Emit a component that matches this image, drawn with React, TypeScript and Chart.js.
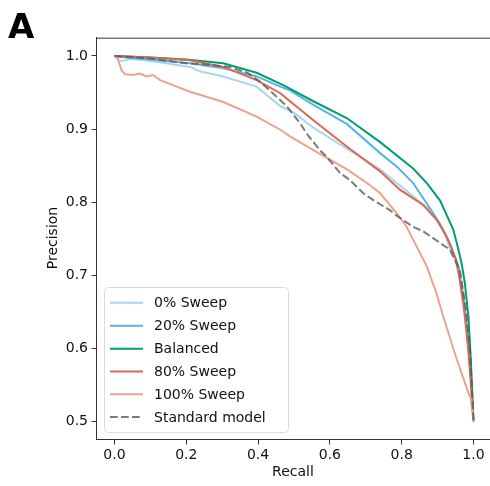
import React, { useEffect, useRef } from "react";
import { Chart, registerables } from "chart.js";

Chart.register(...registerables);

const seriesLabels = ["0% Sweep", "20% Sweep", "Balanced", "80% Sweep", "100% Sweep", "Standard model"];
const seriesColors = ["#a8d6f0", "#56b4e9", "#009e73", "#e0664e", "#e9a48e", "rgba(90,90,90,0.8)"];

const recall0 = [0, 0.01, 0.02, 0.05, 0.117, 0.21, 0.238, 0.303, 0.396, 0.46, 0.5, 0.554, 0.647, 0.74, 0.814, 0.879, 0.916, 0.934, 0.947, 0.958, 0.967, 0.98, 0.99, 1.0];
const prec0 = [1.0, 0.995, 0.993, 0.996, 0.992, 0.985, 0.979, 0.972, 0.958, 0.932, 0.922, 0.902, 0.873, 0.845, 0.815, 0.789, 0.762, 0.737, 0.725, 0.703, 0.671, 0.63, 0.58, 0.5];

const recall20 = [0, 0.05, 0.1, 0.21, 0.303, 0.396, 0.462, 0.489, 0.554, 0.647, 0.74, 0.79, 0.832, 0.87, 0.906, 0.934, 0.958, 0.972, 0.982, 0.99, 1.0];
const prec20 = [1.0, 0.997, 0.995, 0.99, 0.983, 0.972, 0.958, 0.953, 0.933, 0.907, 0.867, 0.847, 0.826, 0.798, 0.771, 0.744, 0.712, 0.671, 0.63, 0.58, 0.5];

const recallBal = [0, 0.1, 0.2, 0.303, 0.396, 0.47, 0.554, 0.647, 0.74, 0.832, 0.87, 0.907, 0.944, 0.958, 0.967, 0.976, 0.986, 0.993, 1.0];
const precBal = [1.0, 0.998, 0.995, 0.99, 0.977, 0.96, 0.938, 0.915, 0.882, 0.846, 0.826, 0.802, 0.762, 0.735, 0.716, 0.689, 0.643, 0.58, 0.5];

const recall80 = [0, 0.1, 0.21, 0.303, 0.396, 0.462, 0.489, 0.554, 0.647, 0.74, 0.795, 0.86, 0.897, 0.925, 0.939, 0.952, 0.962, 0.972, 0.976, 0.985, 0.993, 1.0];
const prec80 = [1.0, 0.998, 0.994, 0.985, 0.967, 0.949, 0.938, 0.912, 0.876, 0.842, 0.817, 0.796, 0.776, 0.753, 0.737, 0.72, 0.694, 0.662, 0.643, 0.6, 0.55, 0.5];

const recall100 = [0, 0.008, 0.02, 0.03, 0.052, 0.07, 0.09, 0.107, 0.127, 0.163, 0.21, 0.238, 0.303, 0.396, 0.462, 0.489, 0.554, 0.647, 0.712, 0.74, 0.786, 0.814, 0.842, 0.87, 0.897, 0.916, 0.95, 0.985, 0.992, 1.0];
const prec100 = [1.0, 0.998, 0.98, 0.975, 0.974, 0.976, 0.972, 0.974, 0.967, 0.96, 0.951, 0.947, 0.937, 0.917, 0.899, 0.89, 0.871, 0.845, 0.823, 0.812, 0.785, 0.766, 0.739, 0.712, 0.675, 0.643, 0.59, 0.54, 0.532, 0.5];

const recallStd = [0, 0.09, 0.2, 0.26, 0.32, 0.37, 0.405, 0.452, 0.48, 0.517, 0.535, 0.572, 0.591, 0.628, 0.656, 0.693, 0.72, 0.767, 0.79, 0.832, 0.86, 0.907, 0.934, 0.962, 0.98, 0.99, 1.0];
const precStd = [1.0, 0.997, 0.99, 0.988, 0.985, 0.977, 0.965, 0.944, 0.931, 0.908, 0.894, 0.871, 0.862, 0.84, 0.83, 0.812, 0.803, 0.789, 0.78, 0.766, 0.76, 0.744, 0.735, 0.707, 0.65, 0.6, 0.5];

const xTicks = [0, 0.2, 0.4, 0.6, 0.8, 1.0];
const yTicks = [0.5, 0.6, 0.7, 0.8, 0.9, 1.0];

const allRecall = [recall0, recall20, recallBal, recall80, recall100, recallStd];
const allPrec = [prec0, prec20, precBal, prec80, prec100, precStd];

const FONT = "'DejaVu Sans', sans-serif";

const decorPlugin = {
  id: "decor",
  afterDraw(chart: any) {
    const ctx = chart.ctx;
    const ca = chart.chartArea;
    ctx.save();
    // top spine
    ctx.strokeStyle = "#333";
    ctx.lineWidth = 1;
    ctx.beginPath();
    ctx.moveTo(ca.left, ca.top + 0.5);
    ctx.lineTo(ca.right, ca.top + 0.5);
    ctx.stroke();

    // panel label
    ctx.fillStyle = "#000";
    ctx.font = `bold 34px ${FONT}`;
    ctx.textAlign = "left";
    ctx.textBaseline = "alphabetic";
    ctx.fillText("A", 8, 38);

    // axis titles
    ctx.font = `14px ${FONT}`;
    ctx.fillStyle = "#111";
    ctx.textAlign = "center";
    ctx.textBaseline = "middle";
    ctx.fillText("Recall", 293, 472);
    ctx.save();
    ctx.translate(53, 238);
    ctx.rotate(-Math.PI / 2);
    ctx.fillText("Precision", 0, 0);
    ctx.restore();

    // legend
    const bx = 104.5, by = 287.5, bw = 184, bh = 145, r = 4;
    ctx.beginPath();
    ctx.moveTo(bx + r, by);
    ctx.lineTo(bx + bw - r, by);
    ctx.arcTo(bx + bw, by, bx + bw, by + r, r);
    ctx.lineTo(bx + bw, by + bh - r);
    ctx.arcTo(bx + bw, by + bh, bx + bw - r, by + bh, r);
    ctx.lineTo(bx + r, by + bh);
    ctx.arcTo(bx, by + bh, bx, by + bh - r, r);
    ctx.lineTo(bx, by + r);
    ctx.arcTo(bx, by, bx + r, by, r);
    ctx.closePath();
    ctx.fillStyle = "rgba(255,255,255,0.85)";
    ctx.fill();
    ctx.strokeStyle = "#dcdcdc";
    ctx.lineWidth = 1;
    ctx.stroke();

    const rows = [302.7, 325.7, 348.7, 371.5, 394.3, 417];
    seriesLabels.forEach((lab, i) => {
      const y = rows[i];
      ctx.strokeStyle = seriesColors[i];
      ctx.lineWidth = 2;
      ctx.setLineDash(i === 5 ? [7.7, 3.3] : []);
      ctx.beginPath();
      ctx.moveTo(110, y);
      ctx.lineTo(143, y);
      ctx.stroke();
      ctx.setLineDash([]);
      ctx.fillStyle = "#111";
      ctx.textAlign = "left";
      ctx.textBaseline = "middle";
      ctx.font = `14px ${FONT}`;
      ctx.fillText(lab, 154, y + 1);
    });
    ctx.restore();
  },
};

export default function App() {
  const ref = useRef<HTMLCanvasElement | null>(null);
  useEffect(() => {
    if (!ref.current) return;
    const datasets = seriesLabels.map((lab, i) => ({
      label: lab,
      data: allRecall[i].map((x, j) => ({ x, y: allPrec[i][j] })),
      borderColor: seriesColors[i],
      backgroundColor: seriesColors[i],
      borderWidth: 2,
      borderDash: i === 5 ? [7.7, 3.3] : [],
      showLine: true,
      pointRadius: 0,
      fill: false,
      tension: 0,
      order: seriesLabels.length - 1 - i,
    }));
    const tickFont = { family: FONT, size: 14 };
    const chart = new Chart(ref.current, {
      type: "scatter",
      data: { datasets },
      plugins: [decorPlugin],
      options: {
        animation: false,
        responsive: false,
        maintainAspectRatio: false,
        layout: { padding: { top: 37.7, right: 0, left: 0, bottom: 0 } },
        plugins: { legend: { display: false }, tooltip: { enabled: false } },
        events: [],
        scales: {
          x: {
            type: "linear",
            min: -0.05,
            max: 1.046,
            afterBuildTicks: (s: any) => {
              s.ticks = xTicks.map((v) => ({ value: v }));
            },
            afterFit: (s: any) => {
              s.height = 46.5;
            },
            ticks: {
              font: tickFont,
              color: "#111",
              padding: 2,
              maxRotation: 0,
              autoSkip: false,
              callback: (v: any) => Number(v).toFixed(1),
            },
            grid: { display: true, drawOnChartArea: false, drawTicks: true, tickLength: 5, color: "#333" },
            border: { display: true, color: "#333", width: 1 },
          },
          y: {
            type: "linear",
            min: 0.475,
            max: 1.025,
            afterBuildTicks: (s: any) => {
              s.ticks = yTicks.map((v) => ({ value: v }));
            },
            afterFit: (s: any) => {
              s.width = 96.5;
            },
            ticks: {
              font: tickFont,
              color: "#111",
              padding: 3.5,
              autoSkip: false,
              callback: (v: any) => Number(v).toFixed(1),
            },
            grid: { display: true, drawOnChartArea: false, drawTicks: true, tickLength: 5, color: "#333" },
            border: { display: true, color: "#333", width: 1 },
          },
        },
      } as any,
    });
    return () => chart.destroy();
  }, []);
  return (
    <div style={{ position: "absolute", left: 0, top: 0, width: 490, height: 486, background: "#fff" }}>
      <canvas ref={ref} width={490} height={486} style={{ width: 490, height: 486 }} />
    </div>
  );
}
